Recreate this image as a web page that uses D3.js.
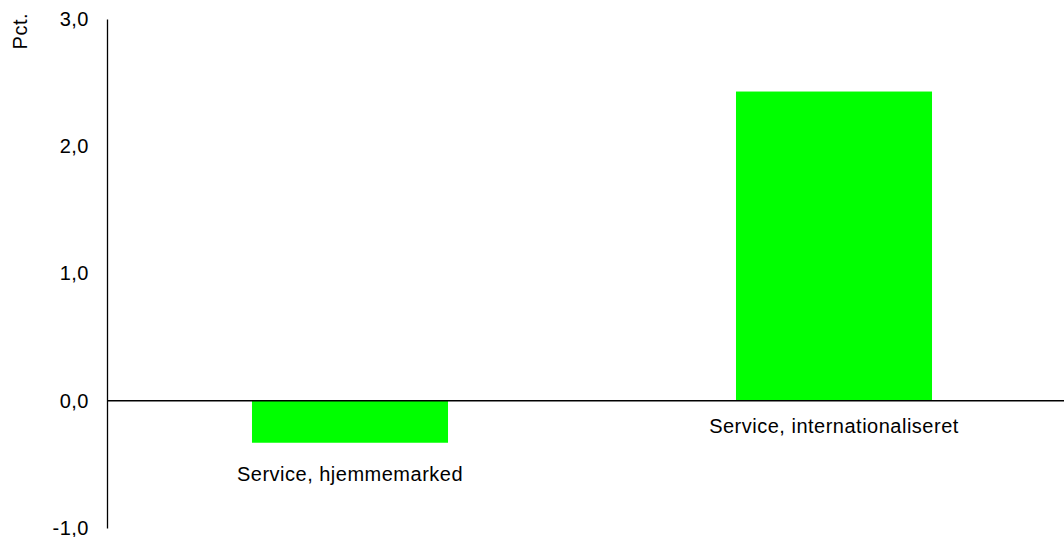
<!DOCTYPE html>
<html>
<head>
<meta charset="utf-8">
<script src="https://cdn.jsdelivr.net/npm/d3@7"></script>
<style>
  html, body { margin: 0; padding: 0; background: #fff; }
  svg text { font-family: "Liberation Sans", Arial, sans-serif; fill: #000; letter-spacing: 0.5px; }
</style>
</head>
<body>
<svg id="chart" width="1064" height="537"></svg>
<script>
const categories = ["Service, hjemmemarked", "Service, internationaliseret"];
const values = [-0.33, 2.43];
const tickValues = [-1, 0, 1, 2, 3];
const tickLabels = ["-1,0", "0,0", "1,0", "2,0", "3,0"];
const yLabel = "Pct.";

const svg = d3.select("#chart");
const axisX = 107;
const y = d3.scaleLinear().domain([-1, 3]).range([528, 19]);
const x = d3.scaleBand().domain(categories).range([108, 1076])
  .paddingInner(0.595).paddingOuter(0.2975);

// bars
svg.append("g").selectAll("rect").data(values).join("rect")
  .attr("x", (d, i) => x(categories[i]))
  .attr("width", x.bandwidth())
  .attr("y", d => y(Math.max(0, d)))
  .attr("height", d => Math.abs(y(d) - y(0)))
  .attr("fill", "#00ff00");

// y axis
const yAxis = d3.axisLeft(y).tickValues(tickValues)
  .tickFormat((d, i) => tickLabels[i]).tickSize(0).tickPadding(18);
const gy = svg.append("g").attr("transform", `translate(${axisX},0)`).call(yAxis);
gy.select(".domain").attr("stroke", "#000").attr("stroke-width", 1.3);
gy.selectAll("text").attr("font-size", 20).attr("fill", "#000")
  .style("font-family", "'Liberation Sans', Arial, sans-serif")
  .style("letter-spacing", "0.5px");

// zero line
svg.append("line")
  .attr("x1", axisX).attr("x2", 1064)
  .attr("y1", y(0)).attr("y2", y(0))
  .attr("stroke", "#000").attr("stroke-width", 1.3);

// category labels
svg.append("g").selectAll("text").data(values).join("text")
  .attr("x", (d, i) => x(categories[i]) + x.bandwidth() / 2)
  .attr("y", d => y(Math.min(0, d)) + (d < 0 ? 38.5 : 32))
  .attr("text-anchor", "middle")
  .attr("font-size", 20)
  .text((d, i) => categories[i]);

// y label
svg.append("text")
  .attr("transform", "translate(27,13) rotate(-90)")
  .attr("text-anchor", "end")
  .attr("font-size", 20)
  .text(yLabel);
</script>
</body>
</html>
